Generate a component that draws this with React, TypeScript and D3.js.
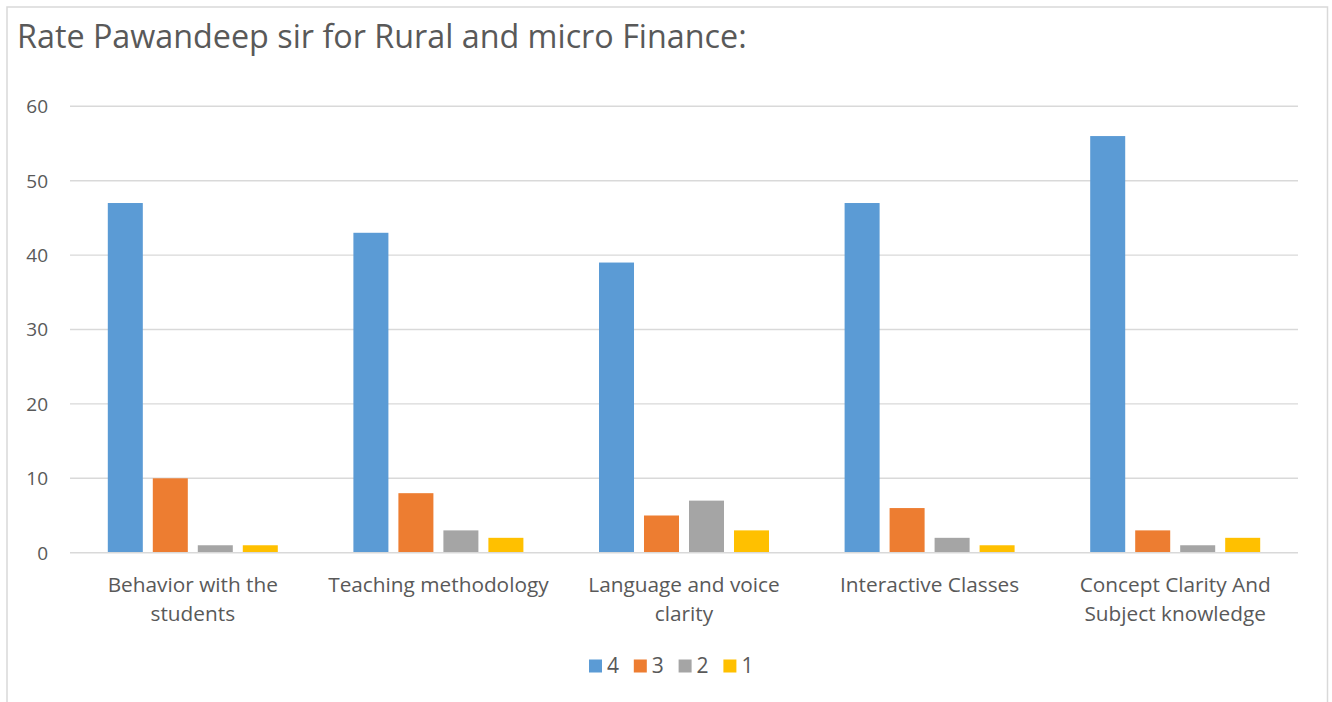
import React from "react";
import * as d3 from "d3";

const title = "Rate Pawandeep sir for Rural and micro Finance:";
const categories = [
  "Behavior with the students",
  "Teaching methodology",
  "Language and voice clarity",
  "Interactive Classes",
  "Concept Clarity And Subject knowledge",
];
const seriesNames = ["4", "3", "2", "1"];
const series4 = [47, 43, 39, 47, 56];
const series3 = [10, 8, 5, 6, 3];
const series2 = [1, 3, 7, 2, 1];
const series1 = [1, 2, 3, 1, 2];
const seriesValues = [series4, series3, series2, series1];
const colors = ["#5B9BD5", "#ED7D31", "#A5A5A5", "#FFC000"];
const yTicks = [0, 10, 20, 30, 40, 50, 60];

const W = 1332;
const H = 702;
const FONT = "'Open Sans', Lato, sans-serif";
const TEXT = "#595959";
const GRID = "#D9D9D9";

function wrap(label: string, maxChars: number): string[] {
  const words = label.split(" ");
  const lines: string[] = [];
  let cur = "";
  for (const w of words) {
    const t = cur ? cur + " " + w : w;
    if (t.length > maxChars && cur) {
      lines.push(cur);
      cur = w;
    } else cur = t;
  }
  if (cur) lines.push(cur);
  return lines;
}

export default function App() {
  const plotL = 70;
  const plotR = 1298;
  const y = d3.scaleLinear().domain([0, 60]).range([552.7, 106.3]);
  const x0 = d3.scaleBand<string>().domain(categories).range([plotL, plotR]).padding(0);
  const groupW = 170;
  const x1 = d3
    .scaleBand<string>()
    .domain(seriesNames)
    .range([(x0.bandwidth() - groupW) / 2, (x0.bandwidth() + groupW) / 2])
    .paddingInner(0.222)
    .paddingOuter(0);

  return (
    <div>
      <style>{`body{margin:0;}`}</style>
      <svg width={W} height={H} style={{ display: "block", background: "#fff" }} fontFamily={FONT}>
        <rect x={7} y={7} width={1320.5} height={720} fill="#fff" stroke={GRID} strokeWidth={1.5} />
        <text x={17} y={48} fontSize={32.3} fill={TEXT}>
          {title}
        </text>
        {yTicks.map((t) => (
          <g key={t}>
            <line x1={plotL} x2={plotR} y1={y(t)} y2={y(t)} stroke={GRID} strokeWidth={1.4} />
            <text x={48} y={y(t)} dy="0.36em" textAnchor="end" fontSize={19} fill={TEXT}>
              {t}
            </text>
          </g>
        ))}
        {categories.map((c, ci) => (
          <g key={c} transform={`translate(${x0(c)},0)`}>
            {seriesNames.map((s, si) => {
              const v = seriesValues[si][ci];
              return (
                <rect
                  key={s}
                  x={x1(s)}
                  y={y(v)}
                  width={x1.bandwidth()}
                  height={y(0) - y(v) - 0.7}
                  fill={colors[si]}
                />
              );
            })}
            {wrap(c, 20).map((line, li) => (
              <text
                key={li}
                x={x0.bandwidth() / 2}
                y={591.5 + li * 29}
                textAnchor="middle"
                fontSize={20.8}
                fill={TEXT}
              >
                {line}
              </text>
            ))}
          </g>
        ))}
        {seriesNames.map((s, si) => (
          <g key={s} transform={`translate(${589 + si * 44.8},0)`}>
            <rect x={0} y={659.5} width={13} height={13} fill={colors[si]} />
            <text x={18} y={673} fontSize={21} fill={TEXT}>
              {s}
            </text>
          </g>
        ))}
      </svg>
    </div>
  );
}
